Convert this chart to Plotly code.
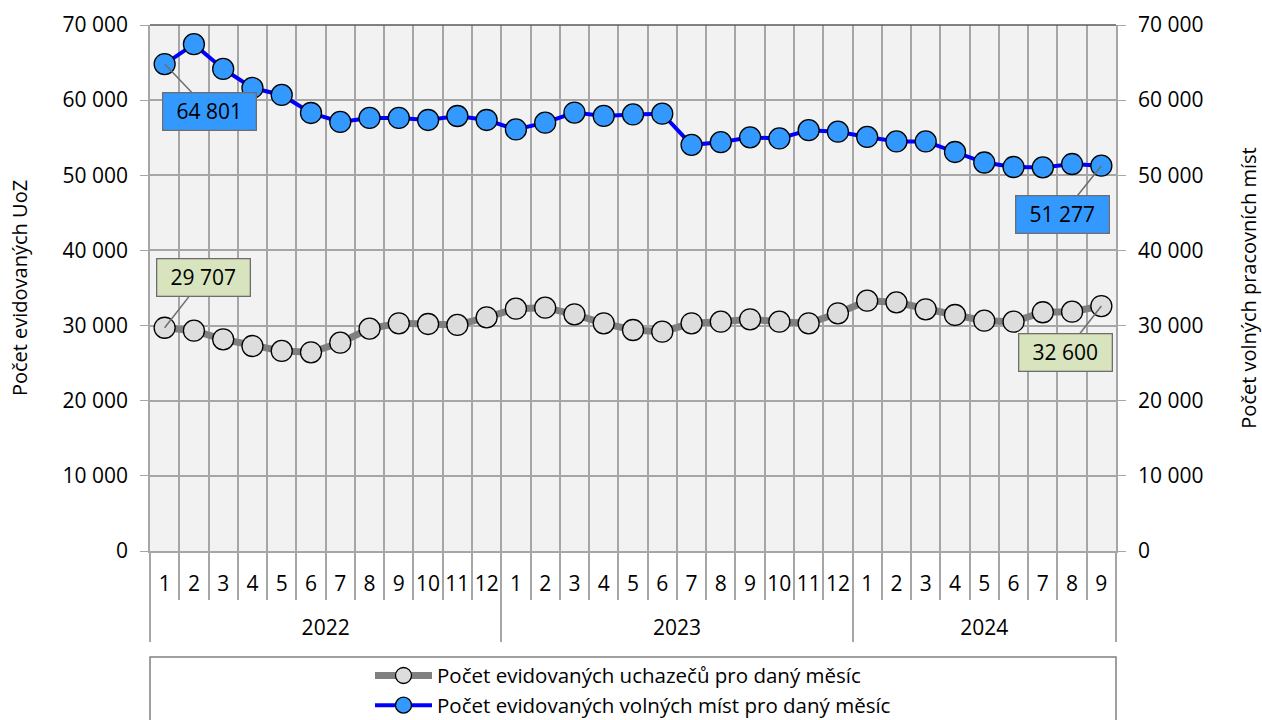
import plotly.graph_objects as go

years = ["2022"] * 12 + ["2023"] * 12 + ["2024"] * 9
months = [str(m) for m in range(1, 13)] * 2 + [str(m) for m in range(1, 10)]

uchazeci = [29707, 29320, 28170, 27280, 26620, 26440, 27720, 29590, 30300, 30210, 30080, 31100,
            32250, 32380, 31500, 30300, 29410, 29190, 30300, 30520, 30830, 30520, 30300, 31630,
            33310, 33090, 32160, 31410, 30650, 30520, 31770, 31850, 32600]
volna_mista = [64801, 67450, 64150, 61620, 60690, 58290, 57100, 57630, 57630, 57360, 57890, 57360,
               56100, 57000, 58350, 57900, 58100, 58200, 54050, 54400, 55050, 54900, 56000, 55800,
               55100, 54500, 54500, 53100, 51700, 51100, 51050, 51500, 51277]

name_u = "Počet evidovaných uchazečů pro daný měsíc"
name_v = "Počet evidovaných volných míst pro daný měsíc"
y_ticks = list(range(0, 70001, 10000))

FONT = "Open Sans"
GRID = "#a6a6a6"
FS = 21

# month labels get an empty second line so the year row sits lower, as in the reference
month_labels = [m + "<br>\u00a0" for m in months]

fig = go.Figure()
fig.add_trace(go.Scatter(
    x=[years, month_labels], y=uchazeci, name=name_u, mode="lines+markers",
    line=dict(color="#808080", width=7),
    marker=dict(size=21, color="#dddddd", line=dict(color="#000000", width=1.3)),
    yaxis="y", hoverinfo="skip"))
fig.add_trace(go.Scatter(
    x=[years, month_labels], y=volna_mista, name=name_v, mode="lines+markers",
    line=dict(color="#0000ff", width=4),
    marker=dict(size=21, color="#3399ff", line=dict(color="#000000", width=1.3)),
    yaxis="y2", hoverinfo="skip"))

def callout(idx, val, yref, fill, ax, ay):
    return dict(x=idx, y=val, xref="x", yref=yref, text=f"{val:,}".replace(",", " "),
                showarrow=True, arrowhead=0, arrowwidth=1.5, arrowcolor="#6e6e6e",
                ax=ax, ay=ay, bgcolor=fill, bordercolor="#6e6e6e", borderwidth=1.3,
                width=90, height=34, font=dict(family=FONT, size=FS, color="#000000"))

n = len(months)
fig.update_layout(
    width=1262, height=720,
    margin=dict(l=150, r=146, t=25, b=169, autoexpand=False),
    paper_bgcolor="#ffffff", plot_bgcolor="#f2f2f2",
    separators=", ",
    font=dict(family=FONT, size=FS, color="#000000"),
    showlegend=True,
    legend=dict(orientation="v", x=0.5, xanchor="center", y=-0.199, yanchor="top",
                bgcolor="rgba(0,0,0,0)", font=dict(family=FONT, size=20.5), itemwidth=57,
                tracegroupgap=0),
    xaxis=dict(type="multicategory", range=[-0.5, n - 0.5], showgrid=True, gridcolor=GRID,
               gridwidth=1.5, tickangle=0, ticklabelstandoff=13,
               tickson="boundaries", ticks="outside", ticklen=47, tickcolor=GRID, tickwidth=1.5,
               showdividers=True, dividercolor=GRID, dividerwidth=1.5,
               showline=True, linecolor=GRID, linewidth=1.5,
               tickfont=dict(family=FONT, size=FS)),
    yaxis=dict(range=[0, 70000], tickvals=y_ticks, tickformat=",d", showgrid=True, gridcolor=GRID,
               gridwidth=1.5, zeroline=False, ticks="outside", ticklen=8, tickcolor=GRID,
               showline=True, linecolor=GRID, linewidth=1.5, ticklabelstandoff=8,
               title=dict(text="Počet evidovaných UoZ", standoff=30, font=dict(size=20))),
    yaxis2=dict(range=[0, 70000], tickvals=y_ticks, tickformat=",d", overlaying="y", side="right",
                showgrid=False, zeroline=False, ticks="outside", ticklen=8, tickcolor=GRID,
                showline=True, linecolor=GRID, linewidth=1.5, ticklabelstandoff=8,
                title=dict(text="Počet volných pracovních míst", standoff=43, font=dict(size=20))),
    annotations=[
        callout(0, volna_mista[0], "y2", "#3399ff", 45, 47),
        callout(n - 1, volna_mista[-1], "y2", "#3399ff", -39, 49),
        callout(0, uchazeci[0], "y", "#d7e4bd", 39, -50),
        callout(n - 1, uchazeci[-1], "y", "#d7e4bd", -36, 46),
    ],
    shapes=[
        dict(type="line", xref="paper", yref="paper", x0=0, x1=1, y0=1, y1=1,
             line=dict(color="#595959", width=1.5)),
        dict(type="rect", xref="paper", yref="paper", x0=0, x1=1, y0=-0.2015, y1=-0.4,
             line=dict(color="#808080", width=1.5), fillcolor="rgba(0,0,0,0)"),
    ],
)

fig.write_html("out.html", config={"displayModeBar": False},
               post_script="document.body.style.margin='0';")
